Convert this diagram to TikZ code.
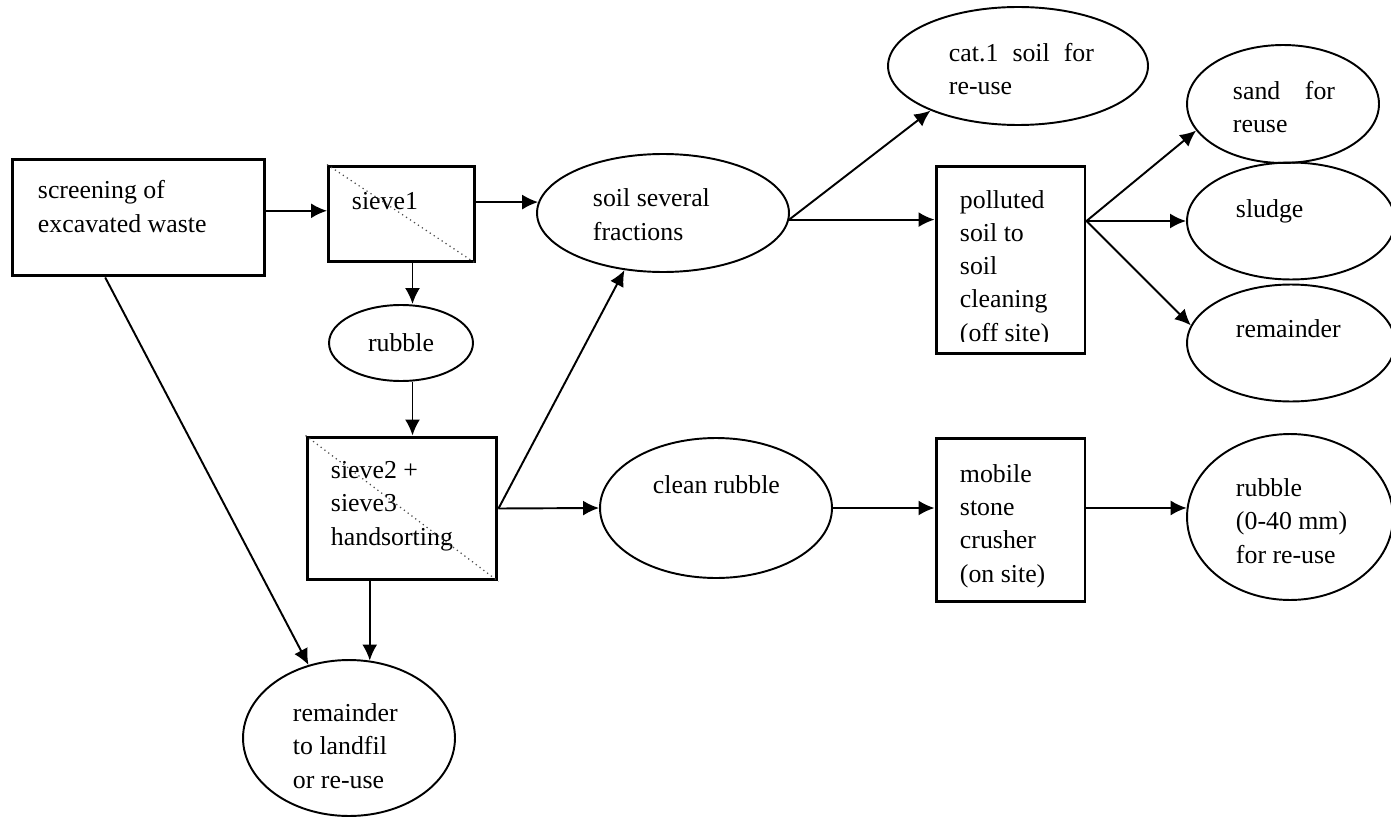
\documentclass[tikz,border=0pt]{standalone}
\usepackage{fontspec}
\setmainfont{Liberation Serif}
\usetikzlibrary{arrows.meta, calc, shapes.geometric, positioning}
\tikzset{
	-{Latex[length=0.32cm, width=0.3cm]},
	proc/.style = {rectangle, draw, line width=1.7pt, inner sep=0pt},
	prod/.style = {ellipse, draw, line width=1.1pt, inner sep=0pt, font=\fontsize{14.7}{18.8}\selectfont},
	lbl/.style = {anchor=base west, align=left, inner sep=0pt, font=\fontsize{14.7}{18.8}\selectfont},
	cut/.style = {-, dotted, line width=0.7pt, black!70}
}

\begin{document}
\begin{tikzpicture}[x=0.02cm, y=-0.02cm, line width=1.1pt]
	\useasboundingbox (0,0) rectangle (1391,824);

	% boxes
	\node[proc, minimum width=5.06cm, minimum height=2.34cm] (scr) at (138.5,217.5) {};
	\node[proc, minimum width=2.92cm, minimum height=1.92cm] (sie1) at (401.5,214) {};
	\node[proc, minimum width=3.8cm, minimum height=2.86cm] (sie2) at (402,508.5) {};
	\node[proc, minimum width=2.98cm, minimum height=3.76cm] (pol) at (1010.5,260) {};
	\node[proc, minimum width=2.98cm, minimum height=3.28cm] (mob) at (1010.5,520) {};

	% ellipses
	\node[prod, minimum width=2.88cm, minimum height=1.52cm] (rub) at (401,343) {rubble};
	\node[prod, minimum width=4.24cm, minimum height=3.12cm] (rml) at (349,738) {};
	\node[prod, minimum width=5.04cm, minimum height=2.36cm] (sl) at (663,213) {};
	\node[prod, minimum width=4.64cm, minimum height=2.8cm] (cr) at (716,508) {};
	\node[prod, minimum width=5.2cm, minimum height=2.36cm] (cat) at (1018,66) {};
	\node[prod, minimum width=3.84cm, minimum height=2.36cm] (sand) at (1283,104) {};
	\node[prod, minimum width=4.16cm, minimum height=2.34cm] (sg) at (1291,221) {};
	\node[prod, minimum width=4.16cm, minimum height=2.34cm] (rm2) at (1291,343) {};
	\node[prod, minimum width=4.12cm, minimum height=3.32cm] (r40) at (1290,517) {};

	% texts (placed at the baseline of their last line)
	\node[lbl] (scrt) at (37,232) {screening of\\excavated waste};
	\node[lbl] (sie1t) at (351,209) {sieve1};
	\node[lbl] (sie2t) at (330,545) {sieve2 +\\sieve3\\handsorting};
	\node[lbl] (rmlt) at (292,788) {remainder\\to landfil\\or re-use};
	\node[lbl] (slt) at (592,240) {soil several\\fractions};
	\node[lbl] (crt) at (652,493) {clean rubble};
	\node[lbl] (catt) at (948,95) {cat.1\hspace{8pt}soil\hspace{8pt}for\\re-use};
	\begin{scope}
		\clip (930,150) rectangle (1090,341);
		\node[lbl] (polt) at (959,341) {polluted\\soil to\\soil\\cleaning\\(off site)};
	\end{scope}
	\node[lbl] (sandt) at (1232,133) {sand\hspace{14pt}for\\reuse};
	\node[lbl] (sgt) at (1235,217) {sludge};
	\node[lbl] (rm2t) at (1235,337) {remainder};
	\node[lbl] (mobt) at (959,582) {mobile\\stone\\crusher\\(on site)};
	\node[lbl] (r40t) at (1235,563) {rubble\\(0-40 mm)\\for re-use};

	% sieve marks
	\draw[cut] (sie1.north west) -- (sie1.south east);
	\draw[cut] (sie2.north west) -- (sie2.south east);

	% flows
	\coordinate (colx) at ($(sie1.south)+(11,0)$);
	\draw (scr.3) -- (scr.3 -| sie1.west);
	\draw (colx) -- (colx |- rub.north);
	\draw (colx |- rub.south) -- (colx |- sie2.north);
	\draw ($(scr.south west)!0.37!(scr.south east)$) -- (rml.119);
	\draw (sie2.south -| rml.75) -- (rml.75);
	\draw (sie1.east |- sl.175) -- (sl.175);
	\draw (sl.357) -- (sl.357 -| pol.west);
	\draw (sl.357) -- (cat.207);
	\draw (sie2.east) -- (sl.236);
	\draw (sie2.east) -- (cr.west);
	\draw (cr.east) -- (cr.east -| mob.west);
	\draw (mob.east |- r40.175) -- (r40.175);
	\coordinate (pout) at (pol.east |- sg.west);
	\draw (pout) -- (sand.197);
	\draw (pout) -- (sg.west);
	\draw (pout) -- (rm2.170);
\end{tikzpicture}
\end{document}
